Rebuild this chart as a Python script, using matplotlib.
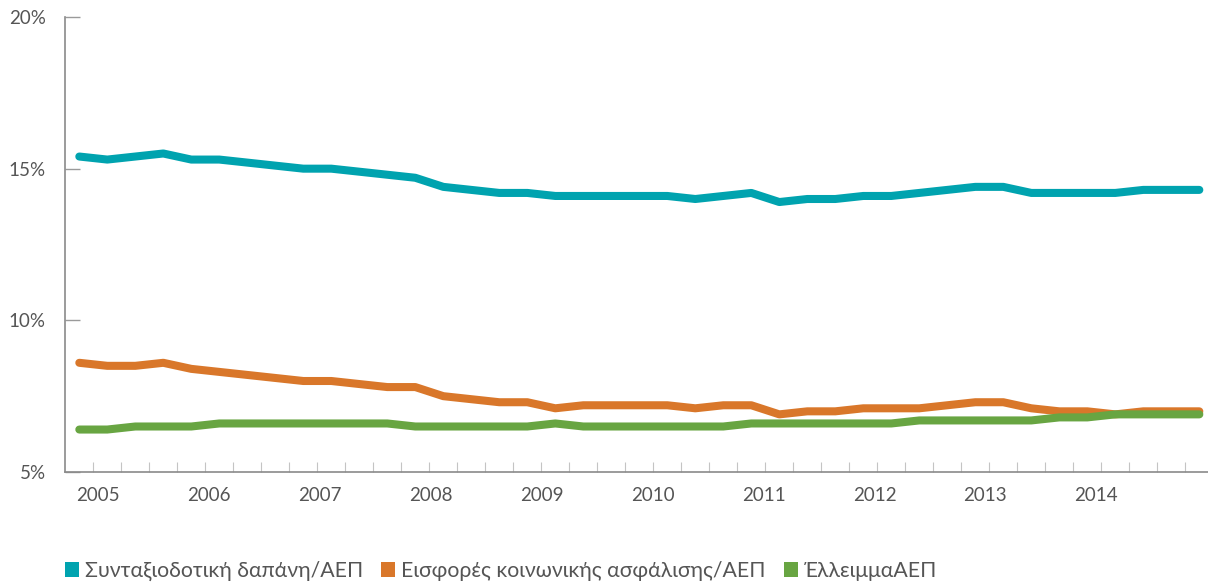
import matplotlib.pyplot as plt
from matplotlib.patches import Patch

plt.rcParams['font.family'] = ['Lato', 'Noto Sans', 'DejaVu Sans']

# Τριμηνιαία στοιχεία (% του ΑΕΠ)
years = ['2005', '2006', '2007', '2008', '2009', '2010', '2011', '2012', '2013', '2014']
pension_spending = [15.4, 15.3, 15.4, 15.5, 15.3, 15.3, 15.2, 15.1, 15.0, 15.0,
                    14.9, 14.8, 14.7, 14.4, 14.3, 14.2, 14.2, 14.1, 14.1, 14.1,
                    14.1, 14.1, 14.0, 14.1, 14.2, 13.9, 14.0, 14.0, 14.1, 14.1,
                    14.2, 14.3, 14.4, 14.4, 14.2, 14.2, 14.2, 14.2, 14.3, 14.3,
                    14.3]
contributions = [8.6, 8.5, 8.5, 8.6, 8.4, 8.3, 8.2, 8.1, 8.0, 8.0,
                 7.9, 7.8, 7.8, 7.5, 7.4, 7.3, 7.3, 7.1, 7.2, 7.2,
                 7.2, 7.2, 7.1, 7.2, 7.2, 6.9, 7.0, 7.0, 7.1, 7.1,
                 7.1, 7.2, 7.3, 7.3, 7.1, 7.0, 7.0, 6.9, 7.0, 7.0,
                 7.0]
deficit = [6.4, 6.4, 6.5, 6.5, 6.5, 6.6, 6.6, 6.6, 6.6, 6.6,
           6.6, 6.6, 6.5, 6.5, 6.5, 6.5, 6.5, 6.6, 6.5, 6.5,
           6.5, 6.5, 6.5, 6.5, 6.6, 6.6, 6.6, 6.6, 6.6, 6.6,
           6.7, 6.7, 6.7, 6.7, 6.7, 6.8, 6.8, 6.9, 6.9, 6.9,
           6.9]
series_names = ['Συνταξιοδοτική δαπάνη/ΑΕΠ', 'Εισφορές κοινωνικής ασφάλισης/ΑΕΠ', 'ΈλλειμμαΑΕΠ']
colors = ['#00A3AF', '#D9772A', '#68A542']

fig = plt.figure(figsize=(12.08, 5.82), dpi=100)
ax = fig.add_axes([65.3 / 1208, 110 / 582, 1 - 65.3 / 1208, 455 / 582])

x = list(range(len(pension_spending)))
for vals, c in zip([pension_spending, contributions, deficit], colors):
    ax.plot(x, vals, color=c, linewidth=5.8, solid_capstyle='round', solid_joinstyle='round')

ax.set_xlim(-0.5, 40.31)
ax.set_ylim(5, 20)

for s in ['top', 'right']:
    ax.spines[s].set_visible(False)
for s in ['left', 'bottom']:
    ax.spines[s].set_color('#8a8a8a')
    ax.spines[s].set_linewidth(1.2)

ax.set_yticks([5, 10, 15, 20])
ax.set_yticklabels(['5%', '10%', '15%', '20%'])
ax.tick_params(axis='y', direction='in', length=11, width=1.0, color='#9a9a9a',
               labelsize=13.5, labelcolor='#555555', pad=14)

# ετήσιες ετικέτες και τριμηνιαίες υποδιαιρέσεις
ax.set_xticks([0.68 + 3.96 * i for i in range(len(years))])
ax.set_xticklabels(years)
ax.set_xticks([k + 0.5 for k in range(40)], minor=True)
ax.tick_params(axis='x', which='major', length=0, labelsize=13.5, labelcolor='#555555', pad=11)
ax.tick_params(axis='x', which='minor', direction='in', length=7, width=0.8, color='#c4c4c4')

handles = [Patch(facecolor=c, edgecolor='none') for c in colors]
fig.legend(handles, series_names, loc='center left', bbox_to_anchor=(65 / 1208, 11 / 582),
           ncol=3, frameon=False, fontsize=15.3, borderpad=0, borderaxespad=0,
           handlelength=0.66, handleheight=0.71, handletextpad=0.28, columnspacing=0.85,
           labelcolor='#555555')

fig.savefig('out.png', dpi=100)
